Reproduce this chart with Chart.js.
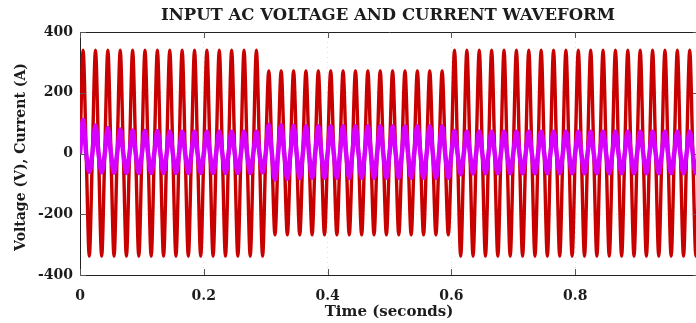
<!DOCTYPE html>
<html>
<head>
<meta charset="utf-8">
<script src="https://cdn.jsdelivr.net/npm/chart.js@4"></script>
<style>
  html, body { margin: 0; padding: 0; background: #fff; overflow: hidden; }
  #wrap { width: 706px; height: 323px; }
</style>
</head>
<body>
<div id="wrap"><canvas id="waveChart" width="706" height="323" style="width:706px;height:323px"></canvas></div>
<script>
// supply frequency and the three load segments (0-0.3 s, 0.3-0.6 s, 0.6-1 s)
const freqHz = 50;
const segCycles = [15, 15, 20];
const voltPeak = [340, 272, 340];
const voltTrough = [-338, -268, -338];

// current peak / trough per cycle
const currPeaks = [
  110, 92, 84, 79, 76, 74, 73, 72, 72, 72, 72, 72, 72, 72, 72,
  95, 93, 91, 90, 90, 90, 90, 90, 90, 90, 90, 90, 90, 90, 90,
  74, 72, 72, 72, 72, 72, 72, 72, 72, 72, 72, 72, 72, 72, 72, 72, 72, 72, 72, 72
];
const currTroughs = [
  -60, -62, -63, -64, -64, -64, -64, -64, -64, -64, -64, -64, -64, -64, -62,
  -86, -83, -81, -80, -80, -80, -80, -80, -80, -80, -80, -80, -80, -80, -80,
  -68, -66, -65, -65, -65, -65, -65, -65, -65, -65, -65, -65, -65, -65, -65, -65, -65, -65, -65, -65
];

const yTicks = [-400, -200, 0, 200, 400];
const xTicks = [0, 0.2, 0.4, 0.6, 0.8, 1];

// build points at zero crossings and peaks of every cycle
const period = 1 / freqHz;
const voltageData = [];
const currentData = [];
let k = 0;
segCycles.forEach((n, s) => {
  for (let i = 0; i < n; i++, k++) {
    const t0 = k * period;
    voltageData.push({ x: t0, y: 0 }, { x: t0 + period / 4, y: voltPeak[s] },
      { x: t0 + period / 2, y: 0 }, { x: t0 + 3 * period / 4, y: voltTrough[s] });
    currentData.push({ x: t0, y: 0 }, { x: t0 + period / 4, y: currPeaks[k] },
      { x: t0 + period / 2, y: 0 }, { x: t0 + 3 * period / 4, y: currTroughs[k] });
  }
});
voltageData.push({ x: k * period, y: 0 });
currentData.push({ x: k * period, y: 0 });

const FONT = "'DejaVu Serif', 'Liberation Serif', serif";
const TXT = "#1c1c1c";

// title, axis titles, box and inward ticks
const decor = {
  id: "decor",
  afterDraw(chart) {
    const { ctx, chartArea: a, scales } = chart;
    ctx.save();
    ctx.fillStyle = TXT;
    ctx.textAlign = "center";
    ctx.textBaseline = "middle";
    ctx.font = "bold 16.5px " + FONT;
    ctx.fillText("INPUT AC VOLTAGE AND CURRENT WAVEFORM", 388, 16);
    ctx.font = "bold 15px " + FONT;
    ctx.fillText("Time (seconds)", 389, 312);
    ctx.translate(21, 157);
    ctx.rotate(-Math.PI / 2);
    ctx.font = "bold 14px " + FONT;
    ctx.fillText("Voltage (V), Current (A)", 0, 0);
    ctx.restore();

    ctx.save();
    ctx.strokeStyle = "#222";
    ctx.lineWidth = 1;
    ctx.beginPath();
    ctx.moveTo(a.left, a.top + 0.5);
    ctx.lineTo(a.right, a.top + 0.5);
    ctx.lineTo(a.right, a.bottom);
    ctx.stroke();
    ctx.strokeStyle = "#555";
    ctx.beginPath();
    xTicks.forEach((v) => {
      const px = Math.round(scales.x.getPixelForValue(v)) + 0.5;
      ctx.moveTo(px, a.bottom); ctx.lineTo(px, a.bottom - 6);
      ctx.moveTo(px, a.top); ctx.lineTo(px, a.top + 6);
    });
    yTicks.forEach((v) => {
      const py = Math.round(scales.y.getPixelForValue(v)) + 0.5;
      ctx.moveTo(a.left, py); ctx.lineTo(a.left + 6, py);
      ctx.moveTo(a.right, py); ctx.lineTo(a.right - 6, py);
    });
    ctx.stroke();
    ctx.restore();
  },
};

new Chart(document.getElementById("waveChart"), {
  type: "line",
  data: {
    datasets: [
      {
        label: "Current",
        data: currentData,
        borderColor: "rgb(214,0,255)",
        borderWidth: 4.5,
        pointRadius: 0,
        cubicInterpolationMode: "monotone",
        order: 0,
      },
      {
        label: "Voltage",
        data: voltageData,
        borderColor: "#c80000",
        borderWidth: 3.4,
        pointRadius: 0,
        cubicInterpolationMode: "monotone",
        order: 1,
      },
    ],
  },
  options: {
    responsive: false,
    animation: false,
    devicePixelRatio: 1,
    // plot runs a few pixels past the 696px window, as in the source figure
    layout: { autoPadding: false, padding: { top: 32, right: 7, left: 0, bottom: 0 } },
    plugins: { legend: { display: false }, tooltip: { enabled: false } },
    scales: {
      x: {
        type: "linear",
        min: 0,
        max: 1,
        afterBuildTicks: (s) => { s.ticks = xTicks.map((v) => ({ value: v })); },
        afterFit: (s) => { s.height = 48; s.paddingLeft = 0; s.paddingRight = 0; },
        grid: { color: "rgba(240,185,110,0.5)", drawTicks: false },
        border: { color: "#222", width: 1, dash: [1, 4] },
        ticks: {
          color: TXT,
          padding: 13,
          maxRotation: 0,
          font: { family: FONT, size: 14, weight: "bold" },
          callback: (v) => String(v),
        },
      },
      y: {
        min: -400,
        max: 400,
        afterBuildTicks: (s) => { s.ticks = yTicks.map((v) => ({ value: v })); },
        afterFit: (s) => { s.width = 80; s.paddingTop = 0; s.paddingBottom = 0; },
        grid: { color: "rgba(240,185,110,0.5)", drawTicks: false },
        border: { color: "#222", width: 1, dash: [1, 4] },
        ticks: {
          color: TXT,
          padding: 7,
          font: { family: FONT, size: 14, weight: "bold" },
          callback: (v) => String(v),
        },
      },
    },
  },
  plugins: [decor],
});
</script>
</body>
</html>
